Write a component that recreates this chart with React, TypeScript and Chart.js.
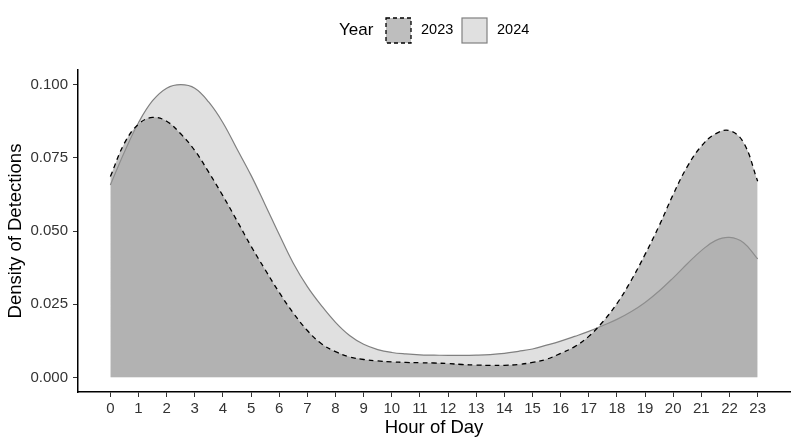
import React, { useEffect, useRef } from "react";
import { Chart, registerables } from "chart.js";

Chart.register(...registerables);

const FONT = "'Liberation Sans', Arial, Helvetica, sans-serif";

const xTickHours = [0, 1, 2, 3, 4, 5, 6, 7, 8, 9, 10, 11, 12, 13, 14, 15, 16, 17, 18, 19, 20, 21, 22, 23];
const yTickValues = [0, 0.025, 0.05, 0.075, 0.1];

const sampleHours = [
  0, 0.5, 1, 1.5, 2, 2.5, 3, 3.5, 4, 4.5, 5, 5.5, 6, 6.5, 7, 7.5, 8, 8.5, 9, 9.5,
  10, 10.5, 11, 11.5, 12, 12.5, 13, 13.5, 14, 14.5, 15, 15.5, 16, 16.5, 17, 17.5,
  18, 18.5, 19, 19.5, 20, 20.5, 21, 21.5, 22, 22.5, 23,
];

const density2023 = [
  0.0686, 0.080, 0.0865, 0.0888, 0.0875, 0.0832, 0.0775, 0.070, 0.062, 0.0535,
  0.0448, 0.0368, 0.029, 0.022, 0.016, 0.0115, 0.0088, 0.007, 0.0061, 0.0056,
  0.0053, 0.0051, 0.005, 0.0049, 0.0047, 0.0044, 0.0042, 0.0041, 0.0041, 0.0044,
  0.0051, 0.0062, 0.0082, 0.0105, 0.014, 0.019, 0.0252, 0.033, 0.042, 0.0518,
  0.0625, 0.072, 0.079, 0.0832, 0.0843, 0.0802, 0.067,
];

const density2024 = [
  0.0657, 0.077, 0.087, 0.0945, 0.0988, 0.100, 0.0988, 0.094, 0.087, 0.078,
  0.069, 0.059, 0.0488, 0.039, 0.031, 0.0245, 0.0188, 0.0143, 0.0113, 0.0095,
  0.0085, 0.0080, 0.0077, 0.0076, 0.0075, 0.0075, 0.0076, 0.0078, 0.0082, 0.0089,
  0.0097, 0.011, 0.0124, 0.014, 0.0157, 0.0177, 0.0198, 0.0224, 0.0256, 0.0295,
  0.034, 0.0388, 0.0433, 0.0467, 0.0478, 0.046, 0.0405,
];

const legendTitle = "Year";
const seriesNames = ["2023", "2024"];

export default function App() {
  const canvasRef = useRef<HTMLCanvasElement | null>(null);

  useEffect(() => {
    document.body.style.margin = "0";
    const canvas = canvasRef.current;
    if (!canvas) return;
    const chart = new Chart(canvas, {
      type: "line",
      data: {
        datasets: [
          {
            label: seriesNames[0],
            data: sampleHours.map((h, i) => ({ x: h, y: density2023[i] })),
            borderColor: "#000000",
            borderWidth: 1.3,
            borderDash: [5, 4],
            backgroundColor: "rgba(150,150,150,0.61)",
            fill: "origin",
            pointRadius: 0,
            tension: 0.4,
          },
          {
            label: seriesNames[1],
            data: sampleHours.map((h, i) => ({ x: h, y: density2024[i] })),
            borderColor: "#808080",
            borderWidth: 1.2,
            backgroundColor: "rgba(152,152,152,0.3)",
            fill: "origin",
            pointRadius: 0,
            tension: 0.4,
          },
        ],
      },
      options: {
        animation: false,
        responsive: false,
        maintainAspectRatio: false,
        layout: { padding: { top: 70, right: 10, left: 0, bottom: 0 } },
        plugins: {
          legend: { display: false },
          tooltip: { enabled: false },
        },
        scales: {
          x: {
            type: "linear",
            min: -1.15,
            max: 24.15,
            afterBuildTicks: (scale: any) => {
              scale.ticks = xTickHours.map((v) => ({ value: v }));
            },
            afterFit: (scale: any) => {
              scale.height = 53;
            },
            grid: {
              drawOnChartArea: false,
              drawTicks: true,
              tickLength: 5,
              color: "#333333",
              lineWidth: 1,
            },
            border: { display: true, color: "#000000", width: 1.5 },
            ticks: {
              autoSkip: false,
              maxRotation: 0,
              padding: 3,
              color: "#333333",
              font: { family: FONT, size: 15 },
              callback: (v: any) => String(v),
            },
            title: {
              display: true,
              text: "Hour of Day",
              color: "#000000",
              font: { family: FONT, size: 18.5 },
              padding: { top: 0, bottom: 6 },
            },
          },
          y: {
            type: "linear",
            min: -0.005,
            max: 0.105,
            afterBuildTicks: (scale: any) => {
              scale.ticks = yTickValues.map((v) => ({ value: v }));
            },
            afterFit: (scale: any) => {
              scale.width = 78;
            },
            grid: {
              drawOnChartArea: false,
              drawTicks: true,
              tickLength: 5,
              color: "#333333",
              lineWidth: 1,
            },
            border: { display: true, color: "#000000", width: 1.5 },
            ticks: {
              padding: 5,
              color: "#333333",
              font: { family: FONT, size: 15 },
              callback: (v: any) => Number(v).toFixed(3),
            },
            title: {
              display: true,
              text: "Density of Detections",
              color: "#000000",
              font: { family: FONT, size: 18.5 },
              padding: { top: 5, bottom: 0 },
            },
          },
        },
      },
    });
    return () => chart.destroy();
  }, []);

  return (
    <div style={{ position: "relative", width: 800, height: 445, background: "#ffffff", fontFamily: FONT }}>
      <canvas ref={canvasRef} width={800} height={445} style={{ position: "absolute", left: 0, top: 0, width: 800, height: 445 }} />
      <div style={{ position: "absolute", left: 0, top: 17, width: 800, height: 27 }}>
        <span style={{ position: "absolute", left: 339, top: 3, fontSize: 17, color: "#000" }}>{legendTitle}</span>
        <svg style={{ position: "absolute", left: 385, top: 0 }} width={27} height={27}>
          <rect x={1} y={1} width={25} height={25} fill="#bebebe" stroke="#000" strokeWidth={1.3} strokeDasharray="4,3" />
        </svg>
        <span style={{ position: "absolute", left: 421, top: 4, fontSize: 14.5, color: "#000" }}>{seriesNames[0]}</span>
        <svg style={{ position: "absolute", left: 461, top: 0 }} width={27} height={27}>
          <rect x={1} y={1} width={25} height={25} fill="#e0e0e0" stroke="#808080" strokeWidth={1.2} />
        </svg>
        <span style={{ position: "absolute", left: 497, top: 4, fontSize: 14.5, color: "#000" }}>{seriesNames[1]}</span>
      </div>
    </div>
  );
}
